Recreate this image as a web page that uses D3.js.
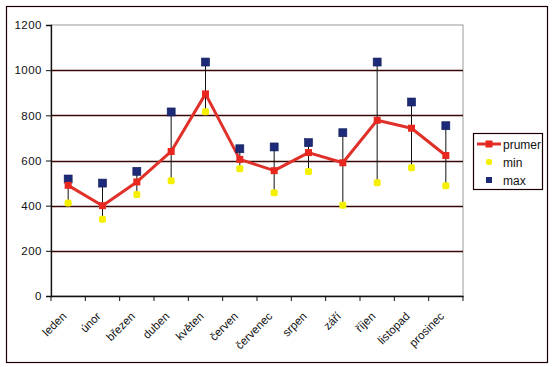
<!DOCTYPE html>
<html lang="cs">
<head>
<meta charset="UTF-8">
<title>prumer / min / max</title>
<script src="https://d3js.org/d3.v7.min.js"></script>
<style>
    body { margin: 0; background: #fff; font-family: "Liberation Sans", Arial, sans-serif; }
    svg text { font-family: "Liberation Sans", Arial, sans-serif; fill: #111; }
</style>
</head>
<body>
<svg id="chart" width="552" height="367"></svg>
<script>
    const months = ["leden", "únor", "březen", "duben", "květen", "červen",
                    "červenec", "srpen", "září", "říjen", "listopad", "prosinec"];
    const prumer = [490, 400, 505, 640, 895, 605, 555, 635, 590, 778, 743, 622];
    const minVals = [412, 340, 450, 510, 816, 564, 457, 551, 402, 502, 568, 488];
    const maxVals = [518, 500, 552, 815, 1036, 652, 660, 679, 723, 1036, 859, 754];
    const yTicks = [0, 200, 400, 600, 800, 1000, 1200];

    const data = months.map((m, i) => ({ m, mean: prumer[i], min: minVals[i], max: maxVals[i] }));

    const svg = d3.select("#chart");
    const plot = { left: 51, right: 463, top: 25, bottom: 296 };

    // outer chart frame
    svg.append("rect")
        .attr("x", 6.5).attr("y", 6.5)
        .attr("width", 541).attr("height", 356)
        .attr("fill", "none").attr("stroke", "#1a0000").attr("stroke-width", 1.2);

    const x = d3.scaleBand().domain(months).range([plot.left, plot.right]);
    const y = d3.scaleLinear().domain([0, 1200]).range([plot.bottom, plot.top]);

    // plot area border (grey top / right)
    svg.append("rect")
        .attr("x", plot.left).attr("y", plot.top)
        .attr("width", plot.right - plot.left).attr("height", plot.bottom - plot.top)
        .attr("fill", "none").attr("stroke", "#9a9a9a");

    // gridlines
    svg.append("g")
        .selectAll("line")
        .data(yTicks.filter(t => t > 0 && t < 1200))
        .join("line")
        .attr("x1", plot.left).attr("x2", plot.right)
        .attr("y1", d => Math.round(y(d)) + 0.5).attr("y2", d => Math.round(y(d)) + 0.5)
        .attr("stroke", "#3a0606").attr("stroke-width", 1.3);

    // y axis
    const yAxis = svg.append("g")
        .attr("transform", `translate(${plot.left},0)`)
        .call(d3.axisLeft(y).tickValues(yTicks).tickFormat(d3.format("d")).tickSize(5).tickPadding(4));
    yAxis.select(".domain").attr("stroke", "#111").attr("stroke-width", 1.3);
    yAxis.selectAll(".tick line").attr("stroke", "#111");
    yAxis.selectAll("text").attr("font-size", 11.5).attr("fill", "#111").style("letter-spacing", "0.5px");

    // x axis
    const xAxis = svg.append("g")
        .attr("transform", `translate(0,${plot.bottom})`)
        .call(d3.axisBottom(x).tickSize(0).tickFormat(""));
    xAxis.select(".domain").attr("stroke", "#111").attr("stroke-width", 1.3);
    // tick marks on category boundaries
    xAxis.selectAll(".bound")
        .data(d3.range(months.length + 1))
        .join("line")
        .attr("class", "bound")
        .attr("x1", i => plot.left + i * x.step()).attr("x2", i => plot.left + i * x.step())
        .attr("y1", 0).attr("y2", 5)
        .attr("stroke", "#111");
    xAxis.selectAll(".lbl")
        .data(months)
        .join("text")
        .attr("class", "lbl")
        .attr("text-anchor", "end")
        .attr("font-size", 11.5)
        .attr("transform", d => `translate(${x(d) + x.bandwidth() / 2 - 1},${21}) rotate(-45)`)
        .text(d => d);

    const cx = d => x(d.m) + x.bandwidth() / 2;

    // high-low lines
    svg.append("g")
        .selectAll("line")
        .data(data)
        .join("line")
        .attr("x1", cx).attr("x2", cx)
        .attr("y1", d => y(d.max)).attr("y2", d => y(d.min))
        .attr("stroke", "#111").attr("stroke-width", 1);

    // mean line
    svg.append("path")
        .datum(data)
        .attr("fill", "none")
        .attr("stroke", "#e0302a")
        .attr("stroke-width", 3)
        .attr("stroke-linejoin", "round")
        .attr("d", d3.line().x(cx).y(d => y(d.mean)));

    // min markers
    svg.append("g")
        .selectAll("rect")
        .data(data)
        .join("rect")
        .attr("x", d => cx(d) - 3.5).attr("y", d => y(d.min) - 3.5)
        .attr("width", 7).attr("height", 7).attr("rx", 2)
        .attr("fill", "#f4f000");

    // max markers
    svg.append("g")
        .selectAll("rect")
        .data(data)
        .join("rect")
        .attr("x", d => cx(d) - 4).attr("y", d => y(d.max) - 4)
        .attr("width", 8).attr("height", 8)
        .attr("fill", "#1c2a78").attr("stroke", "#121c5a").attr("stroke-width", 0.6);

    // mean markers
    svg.append("g")
        .selectAll("rect")
        .data(data)
        .join("rect")
        .attr("x", d => cx(d) - 3.5).attr("y", d => y(d.mean) - 3.5)
        .attr("width", 7).attr("height", 7)
        .attr("fill", "#e8281e");

    // legend
    const legend = svg.append("g").attr("transform", "translate(473,133)");
    legend.append("rect")
        .attr("x", 0.5).attr("y", 0.5).attr("width", 69).attr("height", 56)
        .attr("fill", "#fff").attr("stroke", "#1a0000").attr("stroke-width", 1.2);

    const leg = [
        { name: "prumer", type: "line" },
        { name: "min", type: "min" },
        { name: "max", type: "max" }
    ];
    leg.forEach((l, i) => {
        const gy = 11 + i * 18;
        const g = legend.append("g").attr("transform", `translate(0,${gy})`);
        if (l.type === "line") {
            g.append("line").attr("x1", 4).attr("x2", 28).attr("y1", 0).attr("y2", 0)
                .attr("stroke", "#e0302a").attr("stroke-width", 3);
            g.append("rect").attr("x", 12.5).attr("y", -3.5).attr("width", 7).attr("height", 7).attr("fill", "#e8281e");
        } else if (l.type === "min") {
            g.append("rect").attr("x", 13).attr("y", -3).attr("width", 6).attr("height", 6).attr("rx", 2).attr("fill", "#f4f000");
        } else {
            g.append("rect").attr("x", 13).attr("y", -3).attr("width", 6).attr("height", 6).attr("fill", "#1c2a78");
        }
        g.append("text").attr("x", 30).attr("y", 4.5).attr("font-size", 12).text(l.name);
    });
</script>
</body>
</html>
